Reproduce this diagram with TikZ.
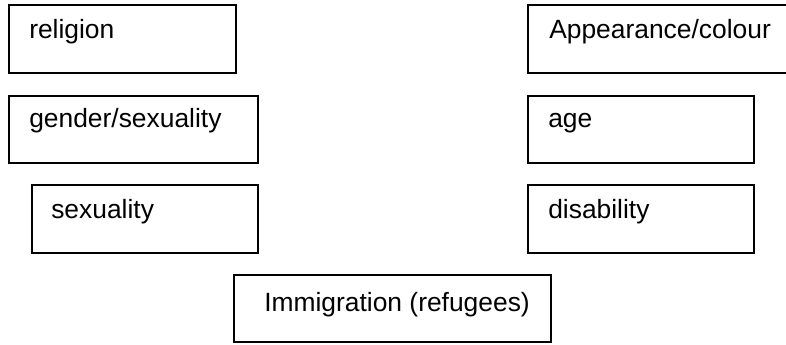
\documentclass[tikz,border=0pt]{standalone}
\usepackage{fontspec}
\setmainfont{Liberation Sans}
\usetikzlibrary{fit}
\tikzset{
  boxst/.style={draw=black, line width=0.8pt, inner sep=0pt, fit=#1},
  txt/.style={anchor=base west, inner sep=0pt, font=\fontsize{19.8}{24}\selectfont},
}
\begin{document}
\begin{tikzpicture}[x=0.75pt,y=-0.75pt]
\useasboundingbox (0,0) rectangle (786,344);
\coordinate (r1) at (9,5);    \coordinate (r2) at (236,73);
\coordinate (a1) at (528,5);  \coordinate (a2) at (800,73);
\coordinate (g1) at (9,96);   \coordinate (g2) at (258,163);
\coordinate (y1) at (528,96); \coordinate (y2) at (754,163);
\coordinate (s1) at (32,185); \coordinate (s2) at (258,253);
\coordinate (d1) at (528,185);\coordinate (d2) at (754,253);
\coordinate (i1) at (234,275);\coordinate (i2) at (551,342);
\node[boxst={(r1)(r2)}] (religion) {};
\node[boxst={(a1)(a2)}] (appearance) {};
\node[boxst={(g1)(g2)}] (gender) {};
\node[boxst={(y1)(y2)}] (age) {};
\node[boxst={(s1)(s2)}] (sexuality) {};
\node[boxst={(d1)(d2)}] (disability) {};
\node[boxst={(i1)(i2)}] (immigration) {};
\node[txt] (t1) at (29,38) {religion};
\node[txt] (t2) at (549,38) {Appearance/colour};
\node[txt] (t3) at (29,127) {gender/sexuality};
\node[txt] (t4) at (548,127) {age};
\node[txt] (t5) at (51,218) {sexuality};
\node[txt] (t6) at (548,218) {disability};
\node[txt] (t7) at (264,311.5) {Immigration (refugees)};
\end{tikzpicture}
\end{document}
